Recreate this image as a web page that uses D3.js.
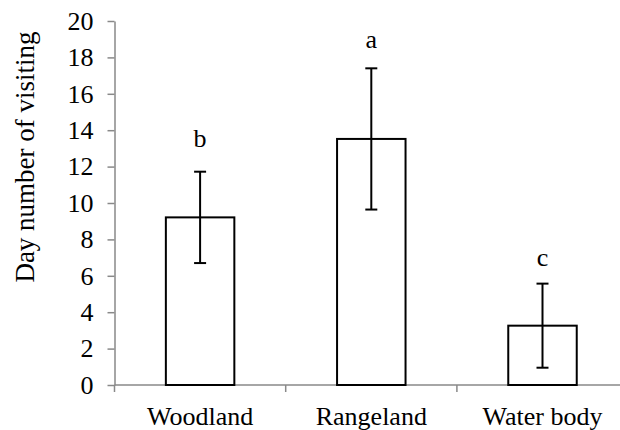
<!DOCTYPE html>
<html>
<head>
<meta charset="utf-8">
<script src="https://cdn.jsdelivr.net/npm/d3@7.9.0/dist/d3.min.js"></script>
<style>
  body { margin: 0; background: #fff; }
  svg text { font-family: "Liberation Serif", "Times New Roman", serif; fill: #000; }
</style>
</head>
<body>
<svg id="chart" width="620" height="430"></svg>
<script>
// data
const habitats = ["Woodland", "Rangeland", "Water body"];
const meanDays = [9.21, 13.52, 3.26];
const errDays = [2.51, 3.88, 2.31];
const groupLetters = ["b", "a", "c"];
const letterAt = [13.1, 18.5, 6.55];   // letter baseline, in axis units
const yTicks = [0, 2, 4, 6, 8, 10, 12, 14, 16, 18, 20];

const svg = d3.select("#chart");
const axisColor = "#898989";

let x = d3.scaleBand()
    .domain(habitats)
    .range([114.5, 114.5 + 3 * 171.2])
    .paddingInner(0.6)
    .paddingOuter(0.3);

let y = d3.scaleLinear().domain([0, 20]).range([385, 21]);

// y axis
let yAxis = svg.append("g")
    .attr("transform", "translate(114.5,0)")
    .call(d3.axisLeft(y).tickValues(yTicks).tickSizeInner(7).tickSizeOuter(0).tickPadding(14));
yAxis.select(".domain").attr("stroke", axisColor).attr("stroke-width", 1.5);
yAxis.selectAll(".tick line").attr("stroke", axisColor).attr("stroke-width", 1.5);
yAxis.selectAll(".tick text")
    .style("font-family", "Liberation Serif")
    .attr("font-size", 26)
    .attr("fill", "#000");

// x axis: ticks sit between categories, like Excel
let xAxisG = svg.append("g").attr("transform", "translate(0,385)");
xAxisG.append("line")
    .attr("x1", 114.5).attr("x2", 620)
    .attr("stroke", axisColor).attr("stroke-width", 1.5);
let step = x.step();
let bounds = d3.range(habitats.length + 1).map(i => x.range()[0] + i * step);
xAxisG.selectAll(".xtick")
    .data(bounds)
    .join("line")
    .attr("x1", d => d).attr("x2", d => d)
    .attr("y1", 0).attr("y2", 7)
    .attr("stroke", axisColor).attr("stroke-width", 1.5);
xAxisG.selectAll(".xlabel")
    .data(habitats)
    .join("text")
    .attr("x", d => x(d) + x.bandwidth() / 2)
    .attr("y", 40)
    .attr("text-anchor", "middle")
    .attr("font-size", 26)
    .text(d => d);

// bars
svg.append("g").selectAll("rect")
    .data(habitats)
    .join("rect")
    .attr("x", d => x(d))
    .attr("y", (d, i) => y(meanDays[i]))
    .attr("width", x.bandwidth())
    .attr("height", (d, i) => y(0) - y(meanDays[i]))
    .attr("fill", "#fff")
    .attr("stroke", "#000")
    .attr("stroke-width", 2);

// error bars
let capW = 12;
let errG = svg.append("g").attr("stroke", "#000").attr("stroke-width", 2);
habitats.forEach((h, i) => {
    let cx = x(h) + x.bandwidth() / 2;
    let top = y(meanDays[i] + errDays[i]);
    let bot = y(meanDays[i] - errDays[i]);
    errG.append("line").attr("x1", cx).attr("x2", cx).attr("y1", top).attr("y2", bot);
    errG.append("line").attr("x1", cx - capW / 2).attr("x2", cx + capW / 2).attr("y1", top).attr("y2", top);
    errG.append("line").attr("x1", cx - capW / 2).attr("x2", cx + capW / 2).attr("y1", bot).attr("y2", bot);
});

// significance letters
svg.append("g").selectAll("text")
    .data(habitats)
    .join("text")
    .attr("x", d => x(d) + x.bandwidth() / 2)
    .attr("y", (d, i) => y(letterAt[i]))
    .attr("text-anchor", "middle")
    .attr("font-size", 26)
    .text((d, i) => groupLetters[i]);

// y title
svg.append("text")
    .attr("transform", "translate(34,157) rotate(-90)")
    .attr("text-anchor", "middle")
    .attr("font-size", 27)
    .text("Day number of visiting");
</script>
</body>
</html>
